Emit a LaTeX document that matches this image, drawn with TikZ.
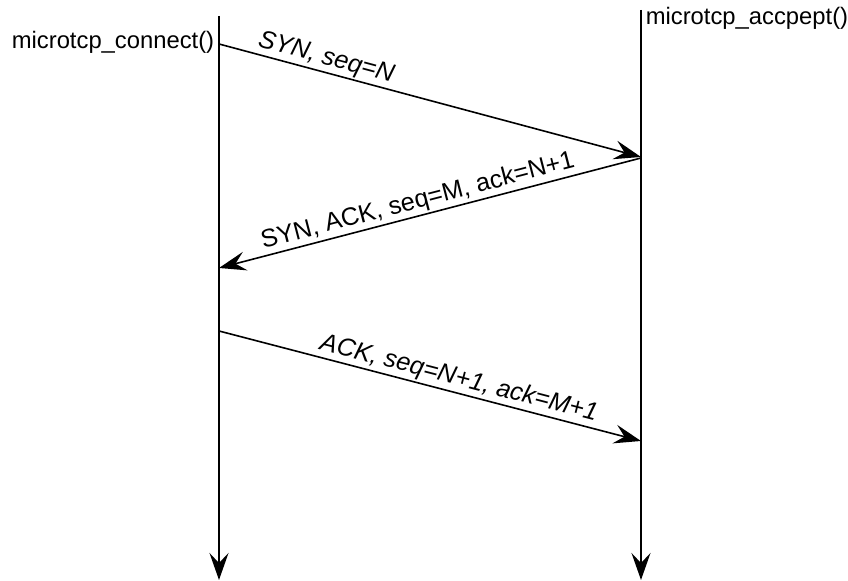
\documentclass[tikz,border=0pt]{standalone}
\usepackage{fontspec}
\setmainfont{Liberation Sans}
\usetikzlibrary{arrows.meta}
\begin{document}
\begin{tikzpicture}[x=0.5pt,y=-0.5pt,
  line width=0.8pt,
  tipstyle/.style={-{Stealth[length=13.5pt,width=9.5pt,inset=5pt]}},
  msglabel/.style={font=\fontsize{12.6}{15}\selectfont, sloped, above, inner sep=0.8pt},
  lbl/.style={font=\fontsize{11.9}{14}\selectfont, inner sep=0pt}]
\useasboundingbox (0,0) rectangle (848,581);
% lifelines
\coordinate (Ltop) at (219,16);
\coordinate (Lbot) at (219,580);
\coordinate (Rtop) at (641,10);
\coordinate (Rbot) at (641,580);
\draw[tipstyle] (Ltop) -- (Lbot);
\draw[tipstyle] (Rtop) -- (Rbot);
% headings
\node[lbl, anchor=east] (cl) at (215,42) {microtcp\_connect()};
\node[lbl, anchor=west] (sv) at (645,18) {microtcp\_accpept()};
% message endpoints
\coordinate (m1s) at (219,44);
\coordinate (m1e) at (641,157);
\coordinate (m2s) at (641,158);
\coordinate (m2e) at (219,268);
\coordinate (m3s) at (219,331);
\coordinate (m3e) at (641,441);
% messages
\draw[tipstyle] (m1s) -- node[msglabel, pos=0.245] (l1) {\itshape SYN, seq=N} (m1e);
\draw[tipstyle] (m2s) -- node[msglabel, pos=0.52] (l2) {SYN, ACK, seq=M, ack=N+1} (m2e);
\draw[tipstyle] (m3s) -- node[msglabel, pos=0.56] (l3) {\itshape ACK, seq=N+1, ack=M+1} (m3e);
\end{tikzpicture}
\end{document}
